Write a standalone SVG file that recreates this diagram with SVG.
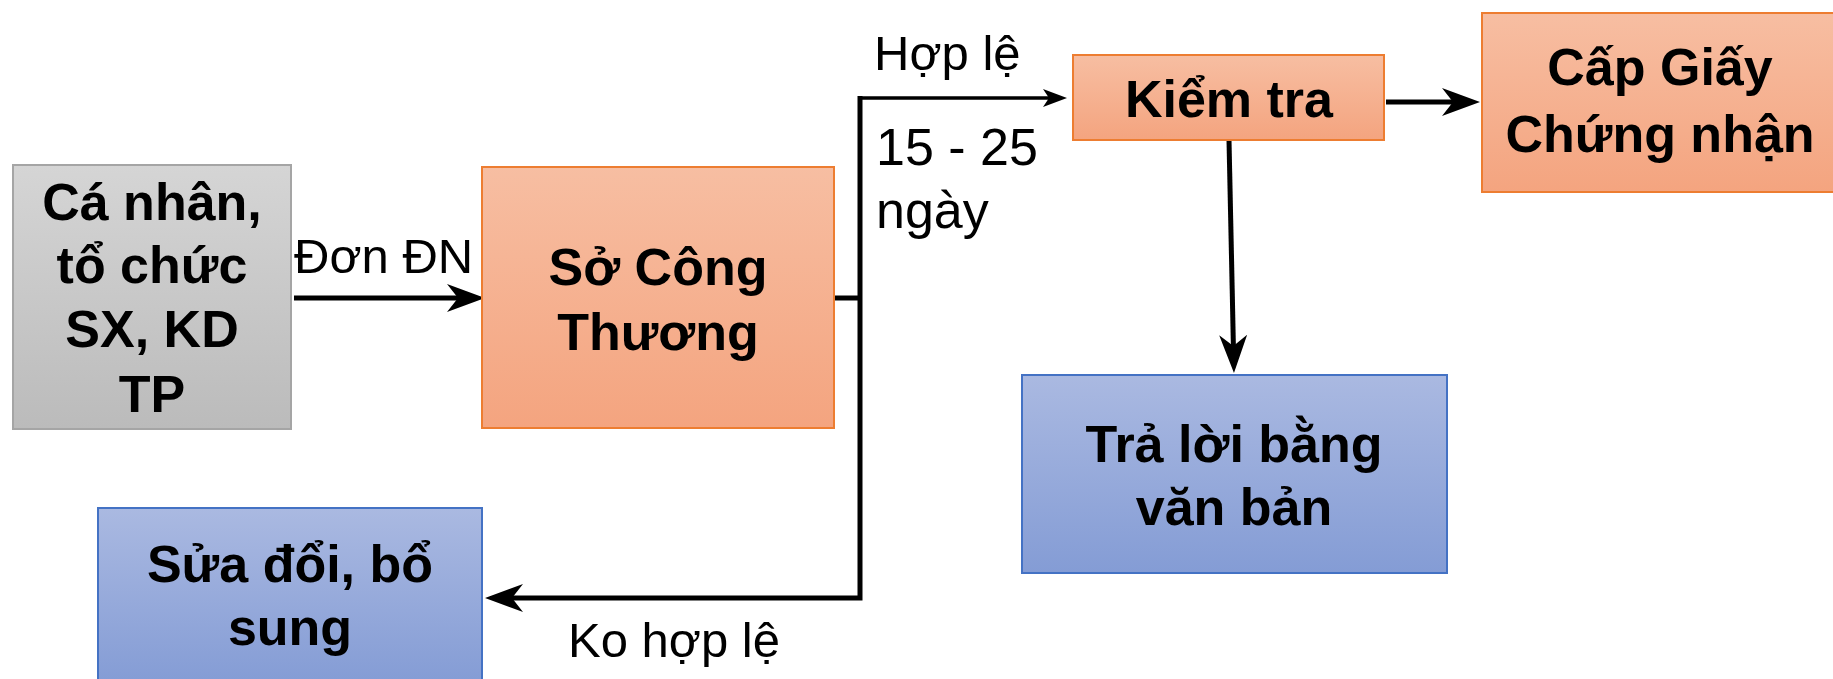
<svg xmlns="http://www.w3.org/2000/svg" width="1833" height="679" viewBox="0 0 1833 679">
<defs>
<linearGradient id="gOrange" x1="0" y1="0" x2="0" y2="1"><stop offset="0" stop-color="#F7BEA2"/><stop offset="1" stop-color="#F4A47F"/></linearGradient>
<linearGradient id="gGray" x1="0" y1="0" x2="0" y2="1"><stop offset="0" stop-color="#D5D5D5"/><stop offset="1" stop-color="#BBBBBB"/></linearGradient>
<linearGradient id="gBlue" x1="0" y1="0" x2="0" y2="1"><stop offset="0" stop-color="#AAB9E1"/><stop offset="1" stop-color="#849CD5"/></linearGradient>
<marker id="ahThick" markerUnits="userSpaceOnUse" viewBox="0 -14 38 28" refX="11" refY="0" markerWidth="38" markerHeight="28" orient="auto"><path d="M0,-14 L38,0 L0,14 L11,0 Z" fill="#000"/></marker>
<marker id="ahThin" markerUnits="userSpaceOnUse" viewBox="0 -9 24 18" refX="6" refY="0" markerWidth="24" markerHeight="18" orient="auto"><path d="M0,-9 L24,0 L0,9 L6,0 Z" fill="#000"/></marker>
</defs>
<style>
.orange{fill:url(#gOrange);stroke:#ED7D31;stroke-width:2}
.gray{fill:url(#gGray);stroke:#A5A5A5;stroke-width:2}
.blue{fill:url(#gBlue);stroke:#4472C4;stroke-width:2}
.nt{font-family:"Liberation Sans",Arial,sans-serif;font-weight:bold;font-size:52px;fill:#000;text-anchor:middle}
.lb{font-family:"Liberation Sans",Arial,sans-serif;font-size:49px;fill:#000}
.lb2{font-family:"Liberation Sans",Arial,sans-serif;font-size:52px;fill:#000}
.c{fill:none;stroke:#000;stroke-width:5}
.ct{fill:none;stroke:#000;stroke-width:3.5}
</style>
<g id="connectors">
<path class="c" d="M294,298 H458" marker-end="url(#ahThick)"/>
<path class="c" d="M834,298 H860"/>
<path class="c" d="M860,96 V598 H512" marker-end="url(#ahThick)"/>
<path class="ct" d="M858,98 H1049" marker-end="url(#ahThin)"/>
<path class="c" d="M1229,140 L1233.4,346" marker-end="url(#ahThick)"/>
<path class="c" d="M1386,102 H1453" marker-end="url(#ahThick)"/>
<text class="lb" x="294" y="273">Đơn ĐN</text>
<text class="lb" x="874" y="70">Hợp lệ</text>
<text class="lb2" x="876" y="165">15 - 25</text>
<text class="lb2" x="876" y="228">ngày</text>
<text class="lb" x="568" y="657">Ko hợp lệ</text>
</g>
<g id="node-canhan">
<rect class="gray" x="13" y="165" width="278" height="264"/>
<text class="nt" x="152" y="220">Cá nhân,</text>
<text class="nt" x="152" y="283">tổ chức</text>
<text class="nt" x="152" y="347">SX, KD</text>
<text class="nt" x="152" y="412">TP</text>
</g>
<g id="node-socongthuong">
<rect class="orange" x="482" y="167" width="352" height="261"/>
<text class="nt" x="658" y="285">Sở Công</text>
<text class="nt" x="658" y="350">Thương</text>
</g>
<g id="node-kiemtra">
<rect class="orange" x="1073" y="55" width="311" height="85"/>
<text class="nt" x="1229" y="117">Kiểm tra</text>
</g>
<g id="node-capgiay">
<rect class="orange" x="1482" y="13" width="352" height="179"/>
<text class="nt" x="1660" y="85">Cấp Giấy</text>
<text class="nt" x="1660" y="152">Chứng nhận</text>
</g>
<g id="node-traloi">
<rect class="blue" x="1022" y="375" width="425" height="198"/>
<text class="nt" x="1234" y="462">Trả lời bằng</text>
<text class="nt" x="1234" y="525">văn bản</text>
</g>
<g id="node-suadoi">
<rect class="blue" x="98" y="508" width="384" height="176"/>
<text class="nt" x="290" y="582">Sửa đổi, bổ</text>
<text class="nt" x="290" y="645">sung</text>
</g>
</svg>
